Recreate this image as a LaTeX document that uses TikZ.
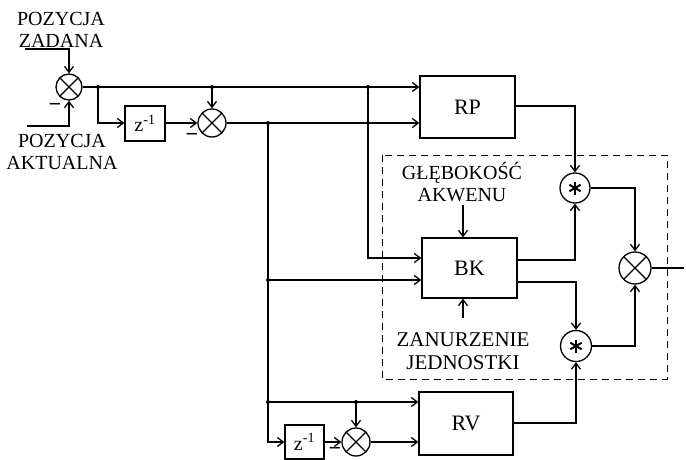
\documentclass[tikz,border=0pt]{standalone}
\usepackage{fontspec}
\setmainfont{Liberation Serif}
\usetikzlibrary{arrows.meta}
\begin{document}
\begin{tikzpicture}[x=1pt,y=-1pt,line width=1.3pt,
  >={Straight Barb[length=6pt,width=9pt]},
  lbl/.style={font=\fontsize{20}{22}\selectfont,align=center,inner sep=0pt},
  blk/.style={draw,inner sep=0pt,font=\fontsize{22}{24}\selectfont},
  sumj/.style={circle,draw,minimum size=#1,inner sep=0pt,
    path picture={\draw (path picture bounding box.north west)--(path picture bounding box.south east)
      (path picture bounding box.north east)--(path picture bounding box.south west);}},
  mulj/.style={circle,draw,minimum size=#1,inner sep=0pt,
    path picture={\foreach \a in {90,30,150}{\draw[line width=2pt] (path picture bounding box.center) ++(\a:6.5pt) -- ++({\a+180}:13pt);}}},
  jdot/.style={circle,fill,inner sep=0pt,minimum size=4pt},
  minus/.style={font=\fontsize{22}{22}\selectfont\bfseries,inner sep=0pt,anchor=base}]
\useasboundingbox (0,0) rectangle (686,460);
% blocks
\node[blk,minimum width=95pt,minimum height=62pt] (RP) at (467.5,107) {RP};
\node[blk,minimum width=95pt,minimum height=60pt] (BK) at (469.5,268) {BK};
\node[blk,minimum width=94pt,minimum height=63pt] (RV) at (466,423.5) {RV};
\node[blk,minimum width=40pt,minimum height=35pt,font=\fontsize{20}{20}\selectfont] (Z1) at (145,123.5) {z\textsuperscript{-1}};
\node[blk,minimum width=39pt,minimum height=34pt,font=\fontsize{20}{20}\selectfont] (Z2) at (304.5,442) {z\textsuperscript{-1}};
% junctions
\node[sumj=26pt] (S1) at (69,87) {};
\node[sumj=28pt] (S2) at (212,123) {};
\node[sumj=32pt] (S3) at (635,268) {};
\node[sumj=28pt] (S4) at (356,442) {};
\node[mulj=30pt] (M1) at (575,188) {};
\node[mulj=31pt] (M2) at (576,346) {};
% dashed box
\draw[line width=1pt,dash pattern=on 7pt off 5pt] (382,155) rectangle (667,379);
% labels
\node[lbl] (L1) at (61,30) {POZYCJA\\ZADANA};
\node[lbl] (L2) at (62,152) {POZYCJA\\AKTUALNA};
\node[lbl] (L3) at (462,182) {GŁĘBOKOŚĆ\\AKWENU};
\node[lbl,font=\fontsize{21}{23}\selectfont] (L4) at (463,351) {ZANURZENIE\\JEDNOSTKI};
\node[minus] (m1) at (55,111) {−};
\node[minus] (m2) at (192,141) {−};
\node[minus] (m3) at (335,455) {−};
% coordinates
\coordinate (i1) at (25,49);
\coordinate (i2) at (27,126);
\coordinate (o1) at (684,268);
\coordinate (g1) at (463,205);
\coordinate (z1) at (463,318);
\node[jdot] (j1) at (98,87) {};
\node[jdot] (j2) at (212,87) {};
\node[jdot] (j3) at (368,87) {};
\node[jdot] (j4) at (268,123) {};
\node[jdot] (j5) at (268,280) {};
\node[jdot] (j6) at (268,402) {};
\node[jdot] (j7) at (356,402) {};
% connectors
\draw[->] (i1) -| (S1.north);
\draw[->] (i2) -| (S1.south);
\draw[->] (S1.east) -- (S1.east -| RP.west);
\draw[->] (j1.center) |- (Z1.west |- S2);
\draw[->] (Z1.east |- S2) -- (S2.west);
\draw[->] (j2.center) -- (S2.north);
\draw[->] (S2.east) -- (S2.east -| RP.west);
\draw[->] (j3.center) |- (BK.west |- 0,258);
\draw (j4.center) -- (j6.center);
\draw[->] (j6.center) |- (Z2.west);
\draw[->] (j5.center) -- (BK.west |- j5);
\draw[->] (j6.center) -- (RV.west |- j6);
\draw[->] (j7.center) -- (S4.north);
\draw[->] (Z2.east) -- (S4.west);
\draw[->] (S4.east) -- (RV.west |- S4);
\draw[->] (RP.east |- 0,106) -| (M1.north);
\draw[->] (BK.east |- 0,260) -| (M1.south);
\draw[->] (BK.east |- 0,282) -| (M2.north);
\draw[->] (RV.east |- 0,423) -| (M2.south);
\draw[->] (M1.east) -| (S3.north);
\draw[->] (M2.east) -| (S3.south);
\draw (S3.east) -- (o1);
\draw[->] (g1) -- (BK.north -| g1);
\draw[->] (z1) -- (BK.south -| z1);
\end{tikzpicture}
\end{document}
